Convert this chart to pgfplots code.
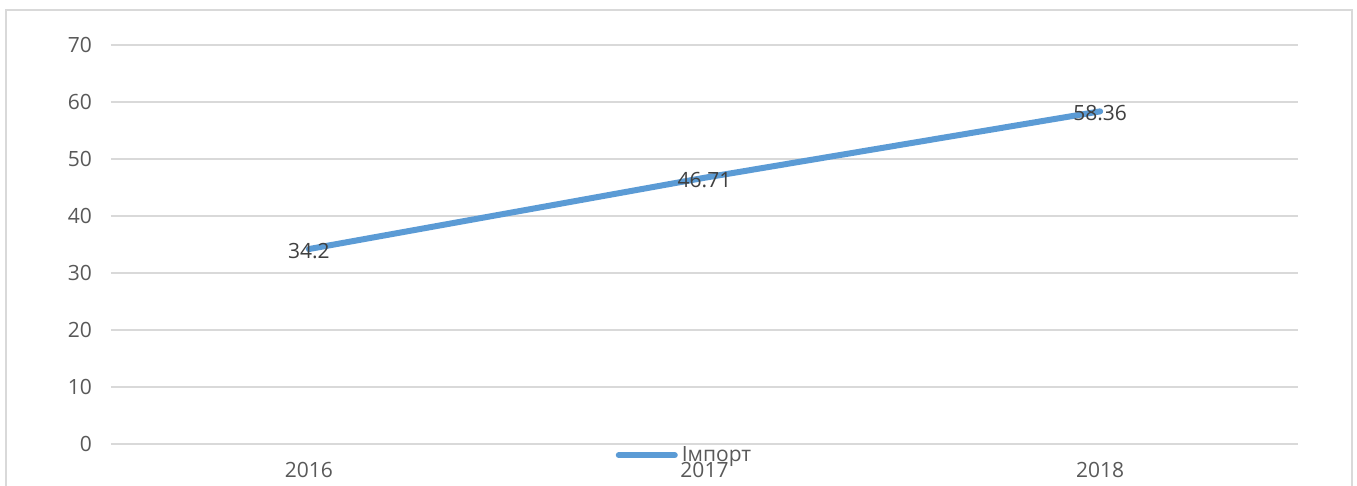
\documentclass[border=0pt]{standalone}
\usepackage{pgfplots}
\pgfplotsset{compat=1.18}
\usepackage{fontspec}
\setmainfont{Open Sans}
\definecolor{linec}{HTML}{5B9BD5}
\definecolor{gridc}{HTML}{D9D9D9}
\definecolor{tickc}{HTML}{595959}
\definecolor{labc}{HTML}{404040}
\begin{document}
\begin{tikzpicture}[x=0.5pt,y=0.5pt]
\useasboundingbox (0,0) rectangle (1357,-486);
\clip (0,0) rectangle (1357,-486);
\fill[white] (0,0) rectangle (1357,-486);
\draw[gridc,line width=1pt] (6,-10) rectangle (1352,-500);
\coordinate (A) at (111,-444);
\begin{axis}[
  at={(A)}, anchor=south west,
  scale only axis, width=593.5pt, height=199.5pt,
  xmin=-0.5, xmax=2.5, ymin=0, ymax=70,
  xtick={0,1,2}, xticklabels={2016,2017,2018},
  ytick={0,10,...,70},
  axis line style={draw=none},
  major tick length=0pt,
  ymajorgrids, grid style={gridc,line width=1pt},
  font=\fontsize{10.5pt}{12pt}\selectfont,
  tick label style={tickc},
  /pgf/number format/assume math mode=true,
  yticklabel style={xshift=-6pt},
  xticklabel style={yshift=-5.5pt},
  legend style={at={(0.484,-0.028)}, anchor=center, draw=none, fill=none,
    font=\fontsize{10.5pt}{12pt}\selectfont\color{tickc}, inner sep=0pt,
    legend cell align=left},
  legend image code/.code={\draw[#1,line cap=round] (0pt,0pt) -- (28pt,0pt);},
  nodes near coords,
  every node near coord/.append style={anchor=center, labc, yshift=-1pt, font=\fontsize{10.5pt}{12pt}\selectfont},
  point meta=explicit symbolic,
  clip=false,
]
\addplot[linec, line width=3pt, line cap=round] coordinates {(0,34.2)[34.2] (1,46.71)[46.71] (2,58.36)[58.36]};
\addlegendentry{Імпорт}
\end{axis}
\end{tikzpicture}
\end{document}
